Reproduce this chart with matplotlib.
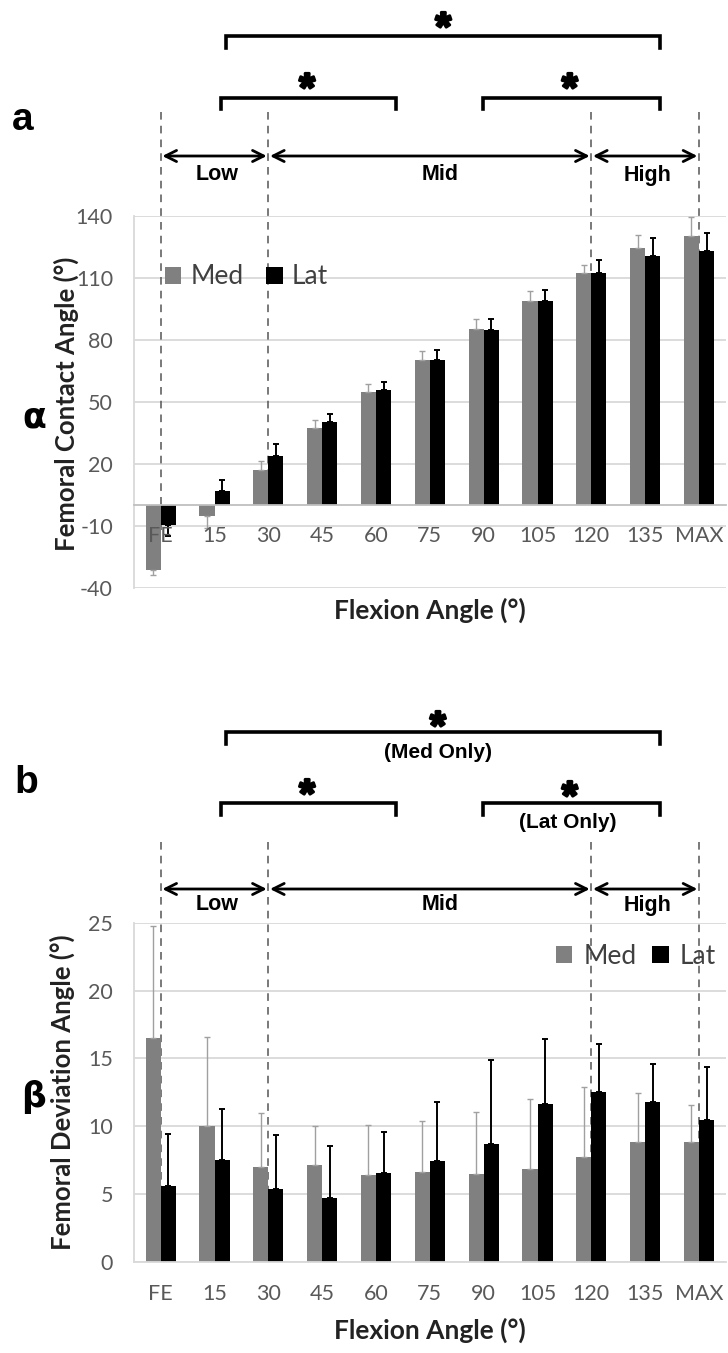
import numpy as np
import matplotlib
matplotlib.use('Agg')
import matplotlib.pyplot as plt
import matplotlib.patheffects as pe
from matplotlib import transforms

# flexion angle categories
categories = ['FE', '15', '30', '45', '60', '75', '90', '105', '120', '135', 'MAX']

# (a) femoral contact angle alpha (deg), mean and SD
alpha_med = [-31.3, -5.3, 17.0, 37.5, 55.0, 70.2, 85.1, 99.1, 112.5, 124.7, 130.5]
alpha_med_sd = [2.5, 5.6, 4.5, 4.0, 3.5, 4.5, 5.2, 4.4, 4.0, 6.0, 9.0]
alpha_lat = [-9.6, 7.1, 24.0, 40.2, 55.7, 70.2, 85.0, 99.0, 112.5, 120.6, 123.0]
alpha_lat_sd = [5.0, 5.2, 5.8, 4.0, 3.8, 4.8, 5.4, 5.0, 6.2, 8.6, 9.0]

# (b) femoral deviation angle beta (deg), mean and SD
beta_med = [16.5, 10.0, 7.0, 7.1, 6.4, 6.6, 6.45, 6.8, 7.7, 8.85, 8.85]
beta_med_sd = [8.3, 6.6, 4.0, 2.9, 3.7, 3.8, 4.6, 5.2, 5.2, 3.6, 2.7]
beta_lat = [5.55, 7.5, 5.35, 4.7, 6.5, 7.45, 8.7, 11.6, 12.55, 11.8, 10.45]
beta_lat_sd = [3.85, 3.75, 4.0, 3.8, 3.1, 4.3, 6.2, 4.8, 3.5, 2.8, 3.9]

# flexion ranges (category index of the borders) and significance brackets
range_edges = [0, 2, 8, 10]
range_names = ['Low', 'Mid', 'High']
range_label_x = [1.05, 5.2, 9.05]
brackets_top = (1.21, 9.28)
brackets_low = [(1.12, 4.37), (5.99, 9.28)]

plt.rcParams['font.family'] = ['Lato', 'DejaVu Sans']
plt.rcParams['axes.unicode_minus'] = False

W, H = 728, 1353
fig = plt.figure(figsize=(W / 100, H / 100), dpi=100)


def fy(py):
    return 1 - py / H


def err_dirs(vals, sd):
    # error bar goes away from zero only
    lo = [s if v < 0 else 0 for v, s in zip(vals, sd)]
    up = [s if v >= 0 else 0 for v, s in zip(vals, sd)]
    return [lo, up]


ARIAL = ['Liberation Sans', 'DejaVu Sans']


def draw_panel(ax, med, med_sd, lat, lat_sd, ylim, yticks, zero_axis):
    x = np.arange(len(categories))
    w = 0.28
    ax.bar(x - w / 2, med, w, color='#808080', label='Med', zorder=2,
           yerr=err_dirs(med, med_sd),
           error_kw=dict(ecolor='#a0a0a0', elinewidth=1, capsize=2.5, capthick=1))
    ax.bar(x + w / 2, lat, w, color='black', label='Lat', zorder=2,
           yerr=err_dirs(lat, lat_sd),
           error_kw=dict(ecolor='black', elinewidth=1.4, capsize=2.5, capthick=1.4))
    ax.set_xlim(-0.5, 10.5)
    ax.set_ylim(*ylim)
    ax.set_yticks(yticks)
    ax.set_xticks(x)
    ax.set_xticklabels(categories)
    ax.grid(axis='y', color='#d9d9d9', lw=1.3)
    ax.set_axisbelow(True)
    ax.xaxis.set_zorder(3)   # category labels over the bars
    ax.tick_params(axis='both', length=0, labelsize=15.5, labelcolor='#595959')
    ax.tick_params(axis='y', pad=15)
    ax.tick_params(axis='x', pad=15)
    ax.spines['top'].set_visible(False)
    ax.spines['right'].set_visible(False)
    ax.spines['left'].set_color('#d9d9d9')
    ax.spines['left'].set_linewidth(1.3)
    ax.spines['bottom'].set_color('#bfbfbf')
    ax.spines['bottom'].set_linewidth(1.3)
    if zero_axis:
        ax.spines['bottom'].set_position(('data', 0))


def draw_ranges(ax, py_dash, dash_bottoms, py_arrow, py_label):
    tr = transforms.blended_transform_factory(ax.transData, fig.transFigure)
    to_fig = ax.transData + fig.transFigure.inverted()
    for c, vb in zip(range_edges, dash_bottoms):
        yb = to_fig.transform((c, vb))[1]
        ax.plot([c, c], [fy(py_dash), yb], transform=tr, clip_on=False,
                color='#555555', lw=1.1, ls=(0, (5, 4)), zorder=1.5)
    for i in range(3):
        x0 = range_edges[i] + 0.03
        x1 = range_edges[i + 1] - 0.03
        ax.annotate('', xy=(x1, fy(py_arrow)), xycoords=tr,
                    xytext=(x0, fy(py_arrow)), textcoords=tr,
                    arrowprops=dict(arrowstyle='<->', lw=2, color='black',
                                    mutation_scale=20, shrinkA=0, shrinkB=0),
                    annotation_clip=False)
        ax.text(range_label_x[i], fy(py_label), range_names[i], transform=tr,
                ha='center', va='center', fontsize=15.5, fontweight='bold',
                family=ARIAL)


def bracket(ax, x0, x1, py, leg):
    tr = transforms.blended_transform_factory(ax.transData, fig.transFigure)
    ax.plot([x0, x0, x1, x1], [fy(py + leg), fy(py), fy(py), fy(py + leg)],
            transform=tr, clip_on=False, color='black', lw=2.6,
            solid_joinstyle='miter')


def star(ax, x, py):
    tr = transforms.blended_transform_factory(ax.transData, fig.transFigure)
    # asterisk glyph sits high above the baseline, so anchor on the baseline
    ax.text(x, fy(py + 23), '*', transform=tr, ha='center', va='baseline',
            fontsize=29, fontweight='bold', family=ARIAL,
            path_effects=[pe.withStroke(linewidth=2.0, foreground='black')])


# ---------------- panel a ----------------
ax_a = fig.add_axes([133.8 / W, fy(588), 592.1 / W, (588 - 216) / H])
draw_panel(ax_a, alpha_med, alpha_med_sd, alpha_lat, alpha_lat_sd,
           (-40, 140), [-40, -10, 20, 50, 80, 110, 140], True)
ax_a.legend(loc='center left', bbox_to_anchor=((165 - 133.8) / 592.1, (588 - 277) / 372),
            ncol=2, frameon=False, fontsize=19, handlelength=0.62, handleheight=0.62,
            handletextpad=0.35, columnspacing=0.85, borderpad=0, borderaxespad=0,
            labelcolor='#404040')
draw_ranges(ax_a, 112, [-12, -2, -2, -2], 156, 175)
bracket(ax_a, brackets_top[0], brackets_top[1], 36, 12)
bracket(ax_a, brackets_low[0][0], brackets_low[0][1], 98, 11)
bracket(ax_a, brackets_low[1][0], brackets_low[1][1], 98, 11)
star(ax_a, 5.25, 17)
star(ax_a, 2.72, 78)
star(ax_a, 7.60, 78)

fig.text(23 / W, fy(120), 'a', ha='center', va='center', fontsize=28,
         fontweight='bold', family=ARIAL)
fig.text(34 / W, fy(417), 'α', ha='center', va='center', fontsize=25,
         fontweight='bold', family=['DejaVu Sans'])
fig.text(66 / W, fy(404), 'Femoral Contact Angle (°)', rotation=90, ha='center',
         va='center', fontsize=18.5, fontweight='bold', color='#222222')
fig.text(430 / W, fy(610), 'Flexion Angle (°)', ha='center', va='center',
         fontsize=19, fontweight='bold', color='#222222')

# ---------------- panel b ----------------
ax_b = fig.add_axes([133.8 / W, fy(1261.5), 592.1 / W, (1261.5 - 923) / H])
draw_panel(ax_b, beta_med, beta_med_sd, beta_lat, beta_lat_sd,
           (0, 25), [0, 5, 10, 15, 20, 25], False)
ax_b.spines['bottom'].set_color('#d9d9d9')
ax_b.tick_params(axis='x', pad=16)
ax_b.legend(loc='center right', bbox_to_anchor=((716 - 133.8) / 592.1, (1261.5 - 956) / 338.5),
            ncol=2, frameon=False, fontsize=19, handlelength=0.62, handleheight=0.62,
            handletextpad=0.42, columnspacing=0.6, borderpad=0, borderaxespad=0,
            labelcolor='#404040')
draw_ranges(ax_b, 842, [0, 0, 0, 0], 889, 905)
bracket(ax_b, brackets_top[0], brackets_top[1], 732, 12)
bracket(ax_b, brackets_low[0][0], brackets_low[0][1], 803, 12)
bracket(ax_b, brackets_low[1][0], brackets_low[1][1], 803, 12)
star(ax_b, 5.15, 716)
star(ax_b, 2.72, 784)
star(ax_b, 7.60, 786)
tr_b = transforms.blended_transform_factory(ax_b.transData, fig.transFigure)
ax_b.text(5.15, fy(753), '(Med Only)', transform=tr_b, ha='center', va='center',
          fontsize=15, fontweight='bold', family=ARIAL)
ax_b.text(7.57, fy(823), '(Lat Only)', transform=tr_b, ha='center', va='center',
          fontsize=15, fontweight='bold', family=ARIAL)

fig.text(26 / W, fy(783), 'b', ha='center', va='center', fontsize=28,
         fontweight='bold', family=ARIAL)
fig.text(33 / W, fy(1097), 'β', ha='center', va='center', fontsize=25,
         fontweight='bold', family=['DejaVu Sans'])
fig.text(62 / W, fy(1092), 'Femoral Deviation Angle (°)', rotation=90, ha='center',
         va='center', fontsize=18.5, fontweight='bold', color='#222222')
fig.text(430 / W, fy(1330), 'Flexion Angle (°)', ha='center', va='center',
         fontsize=19, fontweight='bold', color='#222222')

fig.savefig('out.png', dpi=100)
